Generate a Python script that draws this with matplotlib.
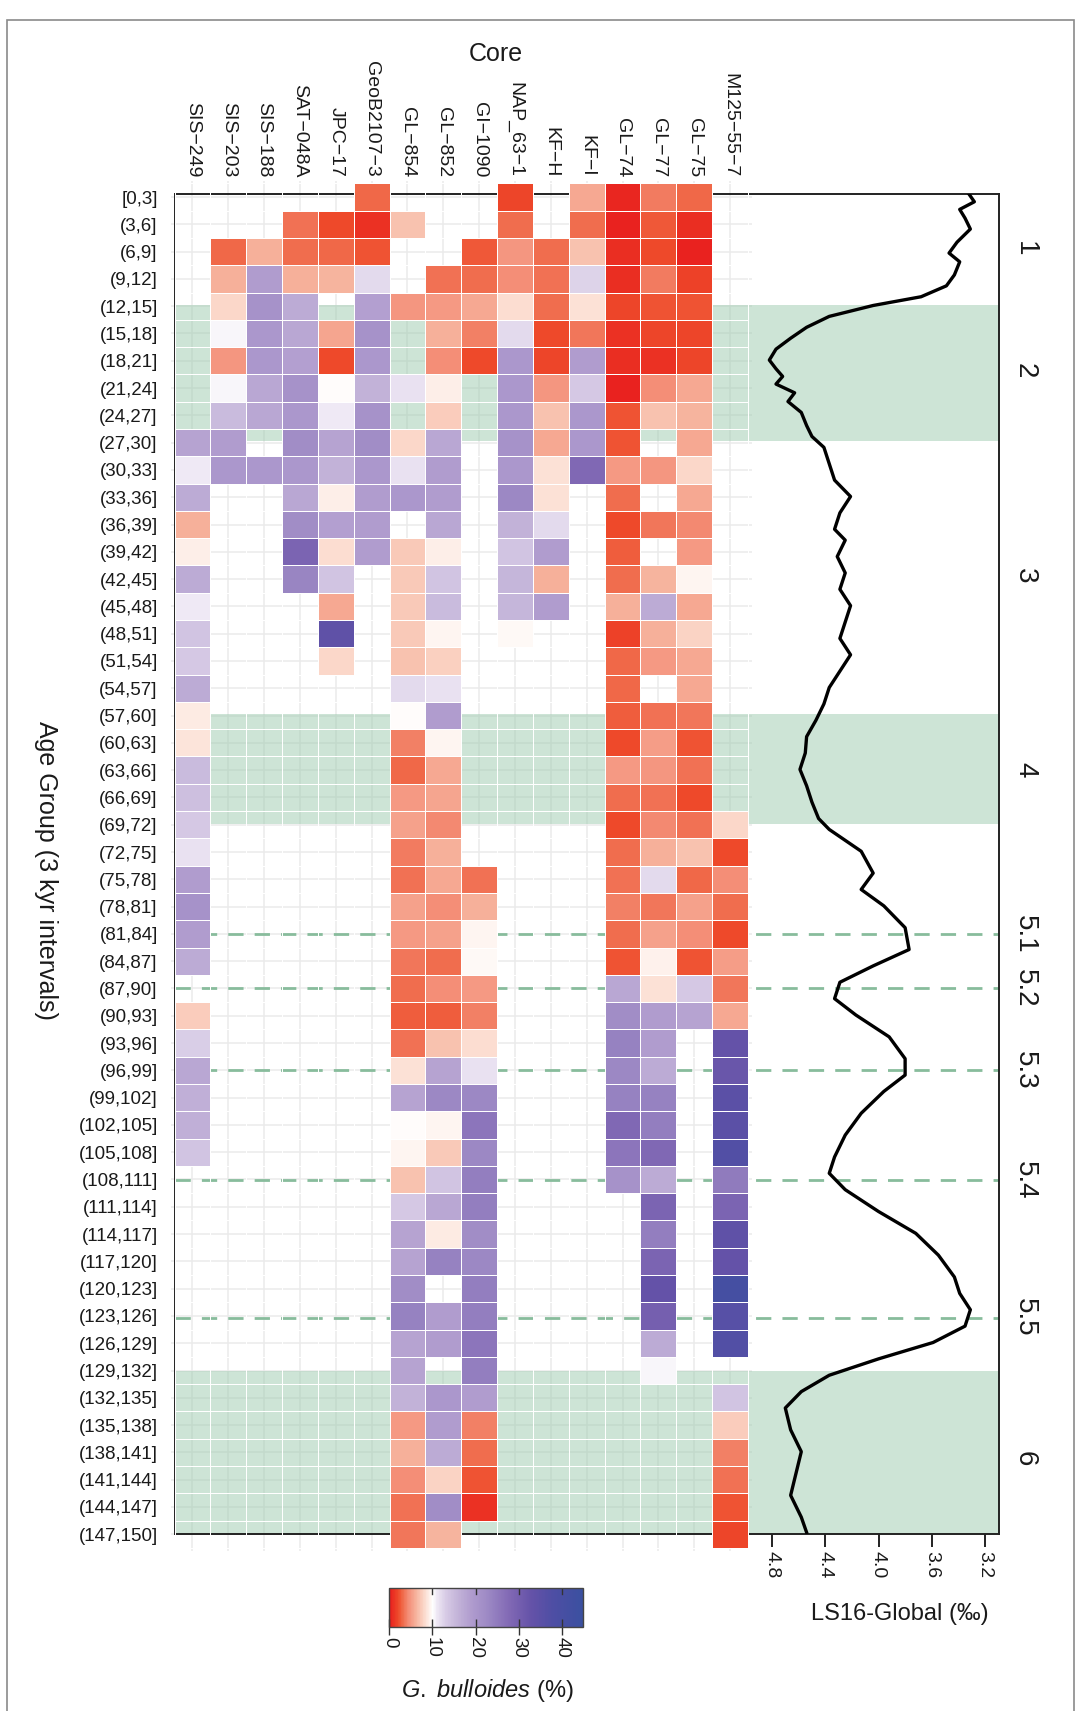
import numpy as np
import matplotlib
matplotlib.use("Agg")
import matplotlib.pyplot as plt
from matplotlib.colors import LinearSegmentedColormap, Normalize
from matplotlib.cm import ScalarMappable
from matplotlib.patches import Rectangle

plt.rcParams["font.family"] = ["Liberation Sans", "DejaVu Sans"]
plt.rcParams["mathtext.fontset"] = "custom"
plt.rcParams["mathtext.rm"] = "Liberation Sans"
plt.rcParams["mathtext.it"] = "Liberation Sans:italic"
plt.rcParams["lines.scale_dashes"] = False

n = np.nan

CORES = ["SIS−249", "SIS−203", "SIS−188", "SAT−048A", "JPC−17", "GeoB2107−3",
         "GL−854", "GL−852", "GI−1090", "NAP_63−1", "KF−H", "KF−I",
         "GL−74", "GL−77", "GL−75", "M125−55−7"]

AGE_GROUPS = ["[0,3]", "(3,6]", "(6,9]", "(9,12]", "(12,15]", "(15,18]", "(18,21]",
              "(21,24]", "(24,27]", "(27,30]", "(30,33]", "(33,36]", "(36,39]",
              "(39,42]", "(42,45]", "(45,48]", "(48,51]", "(51,54]", "(54,57]",
              "(57,60]", "(60,63]", "(63,66]", "(66,69]", "(69,72]", "(72,75]",
              "(75,78]", "(78,81]", "(81,84]", "(84,87]", "(87,90]", "(90,93]",
              "(93,96]", "(96,99]", "(99,102]", "(102,105]", "(105,108]",
              "(108,111]", "(111,114]", "(114,117]", "(117,120]", "(120,123]",
              "(123,126]", "(126,129]", "(129,132]", "(132,135]", "(135,138]",
              "(138,141]", "(141,144]", "(144,147]", "(147,150]"]

# G. bulloides (%) per core, one value per 3 kyr age group (nan = no data)
SIS_249 = [n, n, n, n, n, n, n, n, n, 18,
           11, 17, 6, 9.3, 17, 11, 14, 13.5, 17, 9,
           8.7, 15, 14.5, 13.5, 11.5, 19, 21, 19, 17, n,
           7.5, 13, 17.5, 16.5, 16.5, 14, n, n, n, n,
           n, n, n, n, n, n, n, n, n, n]
SIS_203 = [n, n, 3, 6, 8, 10.5, 4.8, 10.5, 15, 19,
           20, n, n, n, n, n, n, n, n, n,
           n, n, n, n, n, n, n, n, n, n,
           n, n, n, n, n, n, n, n, n, n,
           n, n, n, n, n, n, n, n, n, n]
SIS_188 = [n, n, 6, 19, 21, 20, 20, 17.5, 17.5, n,
           20, n, n, n, n, n, n, n, n, n,
           n, n, n, n, n, n, n, n, n, n,
           n, n, n, n, n, n, n, n, n, n,
           n, n, n, n, n, n, n, n, n, n]
SAT_048A = [n, 3.5, 3.3, 6, 17, 17.5, 18.5, 21, 20, 22,
            20, 17.5, 22, 29, 23.5, n, n, n, n, n,
            n, n, n, n, n, n, n, n, n, n,
            n, n, n, n, n, n, n, n, n, n,
            n, n, n, n, n, n, n, n, n, n]
JPC_17 = [n, 2, 3, 6.3, n, 5.5, 2, 10, 11, 18,
          16, 9.3, 18.5, 8.3, 14, 5.8, 34, 8, n, n,
          n, n, n, n, n, n, n, n, n, n,
          n, n, n, n, n, n, n, n, n, n,
          n, n, n, n, n, n, n, n, n, n]
GEOB2107_3 = [3, 1, 2.3, 12, 18.5, 21, 20, 16, 21, 22,
              20, 19, 19, 19, n, n, n, n, n, n,
              n, n, n, n, n, n, n, n, n, n,
              n, n, n, n, n, n, n, n, n, n,
              n, n, n, n, n, n, n, n, n, n]
GL_854 = [n, 7, n, n, 4.8, n, n, 11.5, n, 8,
          11.5, 20, n, 7.3, 7.3, 7.3, 7.3, 7, 12, 10,
          4, 3, 5, 5.3, 3.7, 3.4, 5.3, 5, 3.6, 3.2,
          2.7, 3.4, 8.6, 18, 10, 9.5, 7, 13.5, 18, 18,
          22, 24, 18, 18, 16, 5, 6, 4.5, 3.4, 3.6]
GL_852 = [n, n, n, 3.4, 5, 6, 4.5, 9.3, 7.5, 17.5,
          19, 19, 17.5, 9.3, 14, 15, 9.5, 7.6, 11.5, 19,
          9.5, 5.8, 5.5, 4.3, 6, 5.8, 4.5, 5.3, 3.2, 4.5,
          2.8, 7, 18, 23, 9.5, 7.3, 14, 17.5, 9, 24,
          n, 19, 19, n, 20, 19, 17, 7.8, 22, 6.3]
GI_1090 = [n, n, 2.6, 3.3, 5.8, 4, 2, n, n, n,
           n, n, n, n, n, n, n, n, n, n,
           n, n, n, n, n, 3.4, 6, 9.5, 9.7, 5,
           4, 8.3, 11.5, 23, 26, 23, 24.5, 24.5, 22, 23,
           24.5, 24.5, 26, 24.5, 19, 4, 3.3, 2.4, 1, n]
NAP_63_1 = [1.8, 3.2, 4.8, 4.5, 8.3, 12, 20, 20, 20, 21,
            20, 23, 16, 14, 15.5, 15.5, 9.7, n, n, n,
            n, n, n, n, n, n, n, n, n, n,
            n, n, n, n, n, n, n, n, n, n,
            n, n, n, n, n, n, n, n, n, n]
KF_H = [n, n, 3.2, 3.4, 3.2, 2, 1.8, 4.8, 7, 5.8,
        8.6, 8.6, 12, 19, 6, 19, n, n, n, n,
        n, n, n, n, n, n, n, n, n, n,
        n, n, n, n, n, n, n, n, n, n,
        n, n, n, n, n, n, n, n, n, n]
KF_I = [5.8, 3.2, 7, 12.5, 8.5, 3.6, 19, 13.5, 20, 20,
        28, n, n, n, n, n, n, n, n, n,
        n, n, n, n, n, n, n, n, n, n,
        n, n, n, n, n, n, n, n, n, n,
        n, n, n, n, n, n, n, n, n, n]
GL_74 = [0.5, 0.3, 0.8, 0.8, 1.8, 1, 0.8, 0.2, 2.4, 2.4,
         5, 3.2, 2, 2.8, 3.3, 6, 1.6, 3, 3, 2.7,
         2, 5, 3.2, 2, 3.2, 3.4, 4, 3.2, 2.4, 17.5,
         22, 24, 23, 24, 28, 26, 21, n, n, n,
         n, n, n, n, n, n, n, n, n, n]
GL_77 = [3.8, 2.6, 2, 3.8, 2.4, 1.8, 1, 4.5, 7, n,
         4.8, n, 3.6, n, 6.3, 17, 6, 5, n, 3.4,
         5.2, 4.8, 3.4, 4.3, 6, 12, 3.6, 5.3, 9.4, 8.6,
         19, 19, 17, 24, 24.5, 28, 17, 29, 24.5, 29,
         33, 30, 17, 10.5, n, n, n, n, n, n]
GL_75 = [3, 0.8, 0.3, 1.7, 2.3, 1.8, 1.8, 5.8, 6.3, 5.8,
         8, 5.8, 4.3, 5, 9.5, 5.8, 7.8, 5.8, 5.8, 3.6,
         2.4, 3.4, 2, 3.4, 7, 3, 5.3, 4.5, 2.4, 13.5,
         18, n, n, n, n, n, n, n, n, n,
         n, n, n, n, n, n, n, n, n, n]
M125_55_7 = [n, n, n, n, n, n, n, n, n, n,
             n, n, n, n, n, n, n, n, n, n,
             n, n, n, 8, 2, 4.5, 3.2, 2, 5.2, 3.6,
             5.8, 33, 32, 35, 35, 37, 25, 29, 34, 33,
             41, 36, 37, n, 14, 7.5, 4, 3.4, 2.4, 1.8]

# LS16 global benthic d18O stack (age in kyr, d18O in permil)
LS16_AGE = [1.18, 2.02, 2.86, 3.82, 5.02, 6.46, 7.66, 8.62, 10.06, 11.26,
            12.46, 13.42, 14.62, 15.82, 17.02, 18.22, 19.42, 20.38, 21.22, 22.06,
            23.02, 23.98, 25.18, 26.62, 27.82, 29.02, 30.82, 32.62, 34.42, 36.22,
            38.02, 39.22, 41.02, 42.82, 44.62, 46.42, 48.22, 50.02, 51.82, 53.62,
            55.42, 57.22, 59.02, 60.82, 62.62, 64.42, 66.22, 68.02, 69.82, 71.02,
            73.42, 75.82, 77.62, 79.42, 81.82, 84.22, 86.02, 87.82, 89.62, 91.42,
            93.82, 96.22, 98.02, 99.82, 102.22, 104.62, 107.02, 108.82, 110.62, 113.02,
            115.42, 117.82, 120.22, 122.02, 123.82, 125.62, 127.42, 129.22, 131.02, 132.82,
            134.62, 137.02, 139.42, 141.82, 144.22, 146.62, 148.30]
LS16_D18O = [3.32, 3.28, 3.39, 3.35, 3.31, 3.41, 3.47, 3.39, 3.43, 3.49,
             3.68, 4.04, 4.37, 4.54, 4.66, 4.77, 4.82, 4.77, 4.72, 4.77,
             4.63, 4.68, 4.58, 4.54, 4.50, 4.41, 4.37, 4.33, 4.21, 4.29,
             4.33, 4.25, 4.31, 4.25, 4.29, 4.21, 4.25, 4.29, 4.21, 4.29,
             4.37, 4.41, 4.47, 4.54, 4.55, 4.59, 4.54, 4.50, 4.45, 4.37,
             4.13, 4.04, 4.13, 3.96, 3.80, 3.77, 4.04, 4.29, 4.33, 4.17,
             3.92, 3.80, 3.80, 3.96, 4.13, 4.25, 4.33, 4.37, 4.25, 4.00,
             3.72, 3.55, 3.43, 3.39, 3.31, 3.35, 3.59, 4.00, 4.37, 4.58,
             4.70, 4.66, 4.58, 4.62, 4.66, 4.58, 4.54]

MIS_BANDS = [(13.4, 28.3), (58.3, 70.4), (130.5, 150.0)]
SUBSTAGE_AGES = [82.5, 88.5, 97.5, 109.6, 124.7]
STAGE_LABELS = ["1", "2", "3", "4", "5.1", "5.2", "5.3", "5.4", "5.5", "6"]
STAGE_LABEL_AGES = [7.2, 20.6, 43.1, 64.5, 82.5, 88.5, 97.5, 109.6, 124.7, 140.2]

D18O_TICKS = [4.8, 4.4, 4.0, 3.6, 3.2]
PCT_TICKS = [0, 10, 20, 30, 40]

# red -> white at 10 % -> lavender -> blue
CMAP_VALUES = [0, 2, 3, 4.5, 6, 8, 9.5, 10, 11, 13, 16, 19, 23, 28, 33, 38, 45]
CMAP_COLOURS = ["#E81E1E", "#EE4A2A", "#F06848", "#F4907A", "#F6B09A", "#FBD8CA",
                "#FEF4F0", "#FFFFFF", "#EEE8F4", "#D8CCE6", "#C2B2D8", "#B09CCE",
                "#9C88C4", "#8068B4", "#6452A8", "#4E4EA4", "#3A50A0"]

TXT = "#1a1a1a"

vmax = CMAP_VALUES[-1]
cmap = LinearSegmentedColormap.from_list(
    "gbull", [(v / vmax, c) for v, c in zip(CMAP_VALUES, CMAP_COLOURS)])
norm = Normalize(0, vmax)

cols = [SIS_249, SIS_203, SIS_188, SAT_048A, JPC_17, GEOB2107_3, GL_854, GL_852,
        GI_1090, NAP_63_1, KF_H, KF_I, GL_74, GL_77, GL_75, M125_55_7]
values = np.ma.masked_invalid(np.array(cols, dtype=float).T)

W, H = 1081, 1711
fig = plt.figure(figsize=(W / 100, H / 100), dpi=100)


def px_axes(left, top, right, bottom, **kw):
    return fig.add_axes([left / W, 1 - bottom / H, (right - left) / W, (bottom - top) / H], **kw)


def fx(x):
    return x / W


def fy(y):
    return 1 - y / H


# tile block position in pixels
HM_L, HM_R, HM_T, HM_B = 174.5, 748.0, 183.4, 1547.9
cell_w = (HM_R - HM_L) / len(CORES)
kyr_px = (HM_B - HM_T) / 150.0
panel = (HM_L - 0.1 * cell_w, HM_T - 0.3 * kyr_px, HM_R + 0.1 * cell_w, HM_B + 0.3 * kyr_px)

# frame of the d18O panel
FR_L, FR_T, FR_R, FR_B = 174.5, 194.0, 999.0, 1534.0
X48, X32 = 772.0, 985.0
d_px = (X32 - X48) / 1.6

# grid underneath everything
ax_grid = px_axes(*panel, zorder=0)
ax_grid.set_xlim(-0.6, len(CORES) - 0.4)
ax_grid.set_ylim(150.3, -0.3)
ax_grid.vlines(range(len(CORES)), -0.3, 150.3, color="#EBEBEB", lw=1.1)
ax_grid.hlines(np.arange(len(AGE_GROUPS)) * 3 + 1.5, -0.6, len(CORES) - 0.4,
               color="#EBEBEB", lw=1.1)
ax_grid.axis("off")

# d18O panel with stage shading
ax_bg = px_axes(FR_L, FR_T, FR_R, FR_B, zorder=1)
ax_bg.set_facecolor("none")
ax_bg.set_ylim((FR_B - HM_T) / kyr_px, (FR_T - HM_T) / kyr_px)
ax_bg.set_xlim(4.8 + (X48 - FR_L) / d_px, 4.8 - (FR_R - X48) / d_px)
for a, b in MIS_BANDS:
    ax_bg.axhspan(a, b, color="#9DCBAE", alpha=0.5, lw=0, zorder=1)
for a in SUBSTAGE_AGES:
    ax_bg.axhline(a, color="#88BC9C", lw=2.0, dashes=(11, 8), zorder=2)
ax_bg.plot(LS16_D18O, LS16_AGE, color="black", lw=2.4, solid_joinstyle="round", zorder=3)
for s in ax_bg.spines.values():
    s.set_linewidth(1.4)
    s.set_color("#222222")
ax_bg.set_yticks([])
ax_bg.set_xticks(D18O_TICKS)
ax_bg.set_xticklabels([f"{t:.1f}" for t in D18O_TICKS], rotation=-90)
ax_bg.tick_params(axis="x", length=9.5, width=1.4, color="#222222", labelsize=14,
                  labelcolor=TXT, pad=3)

# heatmap tiles
ax_hm = px_axes(*panel, zorder=2)
ax_hm.set_facecolor("none")
x_edges = np.arange(len(CORES) + 1) - 0.5
y_edges = np.arange(len(AGE_GROUPS) + 1) * 3.0
ax_hm.pcolormesh(x_edges, y_edges, values, cmap=cmap, norm=norm,
                 edgecolors="white", linewidth=0.6)
ax_hm.set_xlim(-0.6, len(CORES) - 0.4)
ax_hm.set_ylim(150.3, -0.3)
for s in ax_hm.spines.values():
    s.set_visible(False)
ax_hm.xaxis.tick_top()
ax_hm.set_xticks(range(len(CORES)))
ax_hm.set_xticklabels(CORES, rotation=-90, fontsize=14, color=TXT)
ax_hm.set_yticks(np.arange(len(AGE_GROUPS)) * 3 + 1.5)
ax_hm.set_yticklabels(AGE_GROUPS, fontsize=13.5, color=TXT)
ax_hm.tick_params(axis="x", length=0, pad=2.6)
ax_hm.tick_params(axis="y", length=0, pad=9.4)

# titles and stage numbers
fig.text(fx(496), fy(54), "Core", ha="center", va="center", fontsize=18, color=TXT)
fig.text(fx(46), fy(870), "Age Group (3 kyr intervals)", rotation=-90,
         ha="center", va="center", fontsize=18, color=TXT)
fig.text(fx(900), fy(1614), "LS16-Global (‰)", ha="center", va="center",
         fontsize=17, color=TXT)
for lab, age in zip(STAGE_LABELS, STAGE_LABEL_AGES):
    fig.text(fx(1025), fy(HM_T + age * kyr_px), lab, rotation=-90,
             ha="center", va="center", fontsize=20, color=TXT)

# colour bar
cax = px_axes(389.3, 1587.7, 583.3, 1627.3)
cb = fig.colorbar(ScalarMappable(norm=norm, cmap=cmap), cax=cax, orientation="horizontal")
cb.set_ticks(PCT_TICKS)
cb.outline.set_linewidth(1.0)
cb.outline.set_edgecolor("#444444")
cax.tick_params(axis="x", direction="inout", length=12, width=1.0, color="#333333",
                labelsize=13.5, labelcolor=TXT, labelrotation=-90, pad=1)
for t in PCT_TICKS[1:]:
    cax.axvline(t, ymin=0.85, ymax=1.0, color="#333333", lw=1.0)
fig.text(fx(487), fy(1690), r"$\mathit{G.\ bulloides}$ (%)", ha="center", va="center",
         fontsize=17, color=TXT)

# outer border
fig.add_artist(Rectangle((fx(6.5), fy(1720)), fx(1074) - fx(6.5), fy(20) - fy(1720),
                         transform=fig.transFigure, fill=False, lw=1.2,
                         edgecolor="#8a8a8a"))

fig.savefig("out.png", dpi=100, facecolor="white")
